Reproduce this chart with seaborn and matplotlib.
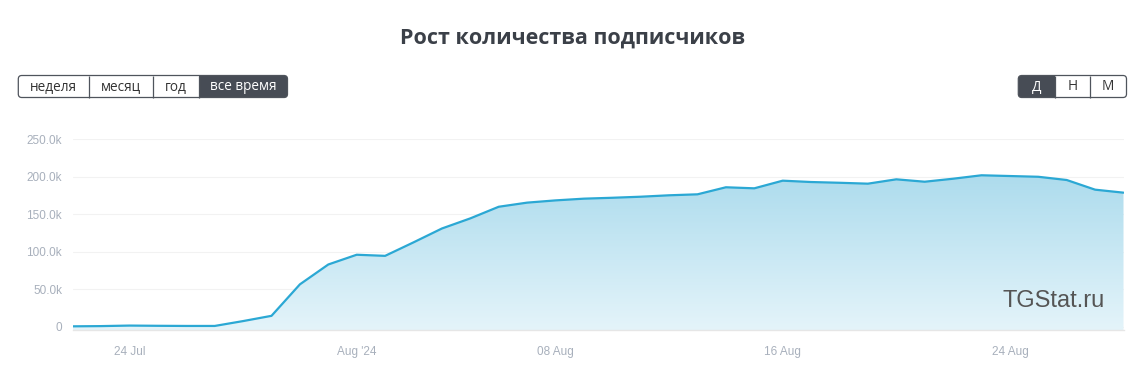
import numpy as np
import pandas as pd
import matplotlib
matplotlib.use("Agg")
import matplotlib.pyplot as plt
import matplotlib.dates as mdates
from matplotlib.patches import FancyBboxPatch, Rectangle
import seaborn as sns

# ---------------- data ----------------
dates = pd.to_datetime([
    "2024-07-22", "2024-07-23", "2024-07-24", "2024-07-25", "2024-07-26",
    "2024-07-27", "2024-07-28", "2024-07-29", "2024-07-30", "2024-07-31",
    "2024-08-01", "2024-08-02", "2024-08-03", "2024-08-04", "2024-08-05",
    "2024-08-06", "2024-08-07", "2024-08-08", "2024-08-09", "2024-08-10",
    "2024-08-11", "2024-08-12", "2024-08-13", "2024-08-14", "2024-08-15",
    "2024-08-16", "2024-08-17", "2024-08-18", "2024-08-19", "2024-08-20",
    "2024-08-21", "2024-08-22", "2024-08-23", "2024-08-24", "2024-08-25",
    "2024-08-26", "2024-08-27", "2024-08-28",
])
subscribers = [
    500, 800, 1500, 1200, 1000,
    1000, 7500, 14500, 56500, 83000,
    96000, 94500, 112500, 131000, 144500,
    160000, 165500, 168500, 170800, 172000,
    173400, 175300, 176600, 186000, 184600,
    194800, 193000, 192000, 190800, 196600,
    193400, 197400, 202000, 201000, 200000,
    195700, 182800, 178800,
]
y_ticks = [0, 50000, 100000, 150000, 200000, 250000]
y_tick_labels = ["0", "50.0k", "100.0k", "150.0k", "200.0k", "250.0k"]
x_ticks = pd.to_datetime(["2024-07-24", "2024-08-01", "2024-08-08", "2024-08-16", "2024-08-24"])
x_tick_labels = ["24 Jul", "Aug '24", "08 Aug", "16 Aug", "24 Aug"]
title = "Рост количества подписчиков"
period_buttons = ["неделя", "месяц", "год", "все время"]
scale_buttons = ["Д", "Н", "М"]
watermark = "TGStat.ru"

df = pd.DataFrame({"date": dates, "subscribers": subscribers})

# ---------------- style ----------------
sns.set_style("white")
plt.rcParams["font.family"] = ["Liberation Sans", "DejaVu Sans"]

W, H = 1143, 376
fig = plt.figure(figsize=(W / 100, H / 100), dpi=100)
fig.patch.set_facecolor("white")

LINE = "#2ba8d4"
LABEL = "#a8b0bc"
Y_BOTTOM = -4800
Y_TOP = 250000

ax = fig.add_axes([72.7 / W, 1 - 330.3 / H, (1123.5 - 72.7) / W, (330.3 - 139.3) / H])
ax.set_facecolor("white")

# gridlines
for yt in y_ticks:
    ax.axhline(yt, color="#f2f2f2", lw=0.8, zorder=0)

# gradient area under the line
fill = ax.fill_between(df["date"], df["subscribers"], Y_BOTTOM, color="none", lw=0)
top_c = np.array([160, 214, 234]) / 255
bot_c = np.array([228, 244, 250]) / 255
n = 256
t = np.linspace(0, 1, n)[:, None]
grad = (top_c[None, :] * (1 - t) + bot_c[None, :] * t)[:, None, :]
x0 = mdates.date2num(df["date"].iloc[0])
x1 = mdates.date2num(df["date"].iloc[-1])
im = ax.imshow(grad, extent=[x0, x1, Y_BOTTOM, Y_TOP], aspect="auto",
               origin="upper", zorder=1, interpolation="bilinear")
im.set_clip_path(fill.get_paths()[0], transform=ax.transData)

sns.lineplot(data=df, x="date", y="subscribers", ax=ax, color=LINE,
             linewidth=1.6, zorder=3)
for ln in ax.get_lines():
    ln.set_solid_joinstyle("round")

ax.set_xlim(x0, x1)
ax.set_ylim(Y_BOTTOM, Y_TOP)
ax.set_xlabel("")
ax.set_ylabel("")

ax.set_yticks(y_ticks)
ax.set_yticklabels(y_tick_labels)
ax.set_xticks(x_ticks)
ax.set_xticklabels(x_tick_labels)
ax.tick_params(axis="y", length=0, pad=7.6, labelsize=8.5, labelcolor=LABEL)
ax.tick_params(axis="x", length=4, width=0.8, color="#dde2ea", pad=7,
               labelsize=8.5, labelcolor=LABEL, direction="out")
ax.yaxis.set_tick_params(which="both", left=False)
for s in ["top", "right", "left"]:
    ax.spines[s].set_visible(False)
ax.spines["bottom"].set_color("#e6e6e6")
ax.spines["bottom"].set_linewidth(1)

# ---------------- overlay for title, buttons, watermark ----------------
ov = fig.add_axes([0, 0, 1, 1], zorder=5)
ov.set_xlim(0, W)
ov.set_ylim(H, 0)
ov.axis("off")
ov.patch.set_visible(False)

ov.text(573, 38, title, ha="center", va="center", fontsize=15.5,
        fontweight="bold", color="#3b4048", family=["Open Sans", "DejaVu Sans"])

ov.text(1104.3, 306.7, watermark, ha="right", va="baseline", fontsize=17,
        color="#555555", family=["Liberation Sans", "DejaVu Sans"])

DARK = "#474c55"
BORDER = "#4f545c"


def button_group(x_edges, labels, active, y0=75.5, y1=97.5):
    left, right = x_edges[0], x_edges[-1]
    outer = FancyBboxPatch((left, y0), right - left, y1 - y0,
                           boxstyle="round,pad=0,rounding_size=3.5",
                           facecolor="white", edgecolor="none", zorder=6)
    ov.add_patch(outer)
    for i, lab in enumerate(labels):
        a, b = x_edges[i], x_edges[i + 1]
        is_active = (i == active)
        if is_active:
            r = Rectangle((a, y0), b - a, y1 - y0, facecolor=DARK,
                          edgecolor="none", zorder=7)
            ov.add_patch(r)
            r.set_clip_path(outer)
        ov.text((a + b) / 2, (y0 + y1) / 2 + 0.5, lab, ha="center", va="center",
                fontsize=9.8, color="white" if is_active else "#333333",
                family=["Open Sans", "DejaVu Sans"], zorder=9)
        if 0 < i:
            ov.plot([a, a], [y0, y1], color=BORDER, lw=0.9, zorder=8,
                    solid_capstyle="butt")
    border = FancyBboxPatch((left, y0), right - left, y1 - y0,
                            boxstyle="round,pad=0,rounding_size=3.5",
                            facecolor="none", edgecolor=BORDER, lw=0.9, zorder=8)
    ov.add_patch(border)


button_group([18.3, 89.3, 152.7, 199.3, 287.5], period_buttons, active=3)
button_group([1018.3, 1055, 1089.5, 1126.5], scale_buttons, active=0)

fig.savefig("out.png", dpi=100, facecolor="white")
